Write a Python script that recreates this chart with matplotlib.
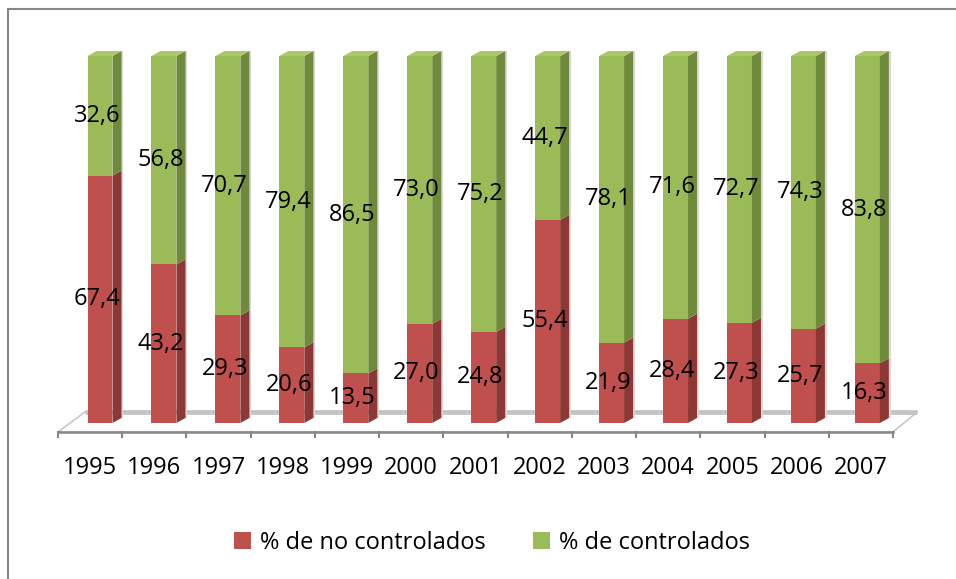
import matplotlib
matplotlib.use('Agg')
import matplotlib.pyplot as plt
from matplotlib.patches import Polygon, Rectangle, Patch

years = ['1995', '1996', '1997', '1998', '1999', '2000', '2001',
         '2002', '2003', '2004', '2005', '2006', '2007']
no_controlados = [67.4, 43.2, 29.3, 20.6, 13.5, 27.0, 24.8, 55.4, 21.9, 28.4, 27.3, 25.7, 16.3]
controlados = [32.6, 56.8, 70.7, 79.4, 86.5, 73.0, 75.2, 44.7, 78.1, 71.6, 72.7, 74.3, 83.8]
series_names = ['% de no controlados', '% de controlados']

RED, RED_SIDE, RED_TOP = '#C0504D', '#8E3835', '#CD6A67'
GRN, GRN_SIDE, GRN_TOP = '#9BBB59', '#6F8A3A', '#AAC86A'

plt.rcParams['font.family'] = ['Open Sans', 'DejaVu Sans']
FS = 17

fig = plt.figure(figsize=(9.56, 5.79), dpi=100)
ax = fig.add_axes([0.0523, 0.2401, 0.9100, 0.6908])
ax.set_xlim(-0.782, 12.822)
ax.set_ylim(-4.63, 104.36)
ax.axis('off')

n = len(years)
x = list(range(n))
w = 0.39
dx, dy = 0.141, 1.36

# normalise to 100 % stacked
tot = [a + b for a, b in zip(no_controlados, controlados)]
r_h = [a / t * 100 for a, t in zip(no_controlados, tot)]
g_h = [b / t * 100 for b, t in zip(controlados, tot)]

# floor
fx0, fx1 = -0.657, 12.40
fy0 = -2.45
bx0, bx1 = -0.235, 12.78
by = 3.0
ax.add_patch(Polygon([(fx0, fy0), (fx1, fy0), (bx1, by), (bx0, by)], closed=True,
                     facecolor='white', edgecolor='#C8C8C8', lw=1.2, zorder=1))
ax.plot([bx0, bx1], [by, by], color='#C4C4C4', lw=3.5, zorder=1.5, solid_capstyle='butt')
ax.plot([fx0, fx1], [fy0, fy0], color='#878787', lw=1.8, zorder=2)
step = (fx1 - fx0) / n
for k in range(n + 1):
    xt = fx0 + k * step
    ax.plot([xt, xt], [fy0, fy0 - 1.4], color='#878787', lw=1.5, zorder=2)

ax.bar(x, r_h, width=w, color=RED, zorder=3, linewidth=0)
ax.bar(x, g_h, bottom=r_h, width=w, color=GRN, zorder=3, linewidth=0)

fmt = lambda v: f'{v:.1f}'.replace('.', ',')
for i in x:
    xl, xr = i - w / 2, i + w / 2
    segs = [(0, r_h[i], RED_SIDE), (r_h[i], r_h[i] + g_h[i], GRN_SIDE)]
    for y0, y1, c in segs:
        # soft shadow
        ax.add_patch(Polygon([(xr + dx, y0 + dy), (xr + dx + 0.03, y0 + dy),
                              (xr + dx + 0.03, y1 + dy), (xr + dx, y1 + dy)],
                             closed=True, facecolor='#D8D8D8', edgecolor='none', zorder=2.8))
        ax.add_patch(Polygon([(xr, y0), (xr + dx, y0 + dy), (xr + dx, y1 + dy), (xr, y1)],
                             closed=True, facecolor=c, edgecolor='none', zorder=3))
    top = r_h[i] + g_h[i]
    ax.add_patch(Polygon([(xl, top), (xl + dx, top + dy), (xr + dx, top + dy), (xr, top)],
                         closed=True, facecolor=GRN_TOP, edgecolor='none', zorder=3))

    ax.text(i - 0.05, r_h[i] / 2, fmt(no_controlados[i]), ha='center', va='center',
            fontsize=FS, zorder=5)
    ax.text(i - 0.05, r_h[i] + g_h[i] / 2, fmt(controlados[i]), ha='center', va='center',
            fontsize=FS, zorder=5)
    ax.text(fx0 + (i + 0.5) * step, -12.26, years[i], ha='center', va='center', fontsize=FS)

handles = [Patch(facecolor=RED, edgecolor='none'), Patch(facecolor=GRN, edgecolor='none')]
fig.legend(handles, series_names, loc='center', bbox_to_anchor=(492 / 956, 1 - 543 / 579),
           ncol=2, frameon=False, fontsize=FS, handlelength=0.7, handleheight=0.7,
           handletextpad=0.4, columnspacing=2.0)

fig.patches.append(Rectangle((8 / 956, -0.1), 2, (579 - 9) / 579 + 0.1,
                             transform=fig.transFigure, fill=False,
                             edgecolor='#868686', lw=1.5))

fig.savefig('out.png', dpi=100)
